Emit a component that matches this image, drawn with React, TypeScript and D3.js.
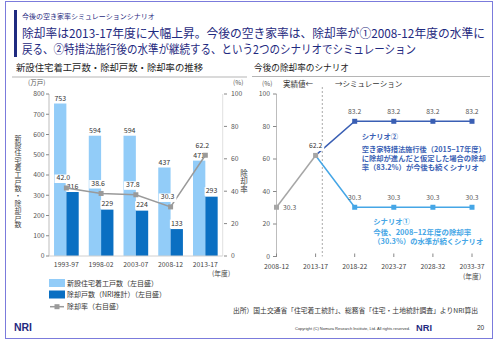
import React from 'react';
import * as d3 from 'd3';

const periods = ['1993-97', '1998-02', '2003-07', '2008-12', '2013-17'];
const housingStarts = [753, 594, 594, 437, 471];
const demolitions = [316, 229, 224, 133, 293];
const demolitionRate = [42.0, 38.6, 37.8, 30.3, 62.2];
const leftTicks = [0, 100, 200, 300, 400, 500, 600, 700, 800];
const rightTicks = [0, 20, 40, 60, 80, 100];

const scenarioPeriods = ['2008-12', '2013-17', '2018-22', '2023-27', '2028-32', '2033-37'];
const actualRates = [30.3, 62.2];
const scenario1Rates = [62.2, 30.3, 30.3, 30.3, 30.3];
const scenario2Rates = [62.2, 83.2, 83.2, 83.2, 83.2];
const scenarioTicks = [0, 20, 40, 60, 80, 100];

const leftAxisTitle = '新設住宅着工戸数・除却戸数';
const rightAxisTitle = '除却率';

const FONT = "'Noto Sans CJK JP', 'Noto Sans', sans-serif";
const NAVY = '#1f2a80';
const LIGHT = '#92ccf8';
const DARK = '#0a6fc2';
const GRAY = '#9a9a9a';
const S1 = '#45a6e6';
const S2 = '#3a5fb4';

function BoxLabel({ x, y, text, size = 7 }: { x: number; y: number; text: string; size?: number }) {
  const w = text.length * size * 0.56 + 2;
  return (
    <g>
      <rect x={x - w / 2} y={y - size * 0.85} width={w} height={size + 1.5} fill="#fff" />
      <text x={x} y={y} textAnchor="middle" fontSize={size} fill="#333" fontFamily={FONT}>{text}</text>
    </g>
  );
}

export default function App() {
  // Left chart scales
  const x0 = d3.scaleBand<string>().domain(periods).range([49, 222.7]).paddingInner(0.29).paddingOuter(0.145);
  const x1 = d3.scaleBand<string>().domain(['starts', 'demol']).range([0, x0.bandwidth()]);
  const yL = d3.scaleLinear().domain([0, 800]).range([256, 94]);
  const yR = d3.scaleLinear().domain([0, 100]).range([256, 94]);
  const cx = (i: number) => (x0(periods[i]) as number) + x0.bandwidth() / 2;
  const rateLine = d3.line<number>().x((_, i) => cx(i)).y((d) => yR(d));

  // Right chart scales
  const xs = d3.scalePoint<string>().domain(scenarioPeriods).range([276.5, 472]);
  const ys = d3.scaleLinear().domain([0, 100]).range([256.5, 94]);
  const actualLine = d3.line<number>().x((_, i) => xs(scenarioPeriods[i]) as number).y((d) => ys(d));
  const scenLine = d3.line<number>().x((_, i) => xs(scenarioPeriods[i + 1]) as number).y((d) => ys(d));

  const mk = 5;
  const vStyle: any = { writingMode: 'vertical-rl', textOrientation: 'upright' };

  return (
    <svg width={500} height={339} style={{ position: 'absolute', left: 0, top: 0, background: '#fff' }} fontFamily={FONT}>
      <rect x={0} y={0} width={500} height={339} fill="#fff" />
      {/* slide frame */}
      <rect x={5.5} y={1.5} width={487} height={337} fill="none" stroke="#7b7bdc" strokeWidth={1} />

      {/* header */}
      <rect x={14} y={10} width={3} height={47} fill={NAVY} />
      <text x={22} y={18.5} fontSize={7} fill={NAVY}>今後の空き家率シミュレーションシナリオ</text>
      <text x={22} y={37.5} fontSize={12} fill={NAVY} textLength={463} lengthAdjust="spacingAndGlyphs">除却率は2013-17年度に大幅上昇。今後の空き家率は、除却率が①2008-12年度の水準に</text>
      <text x={22} y={54.3} fontSize={12} fill={NAVY} textLength={394} lengthAdjust="spacingAndGlyphs">戻る、②特措法施行後の水準が継続する、という2つのシナリオでシミュレーション</text>

      {/* section titles */}
      <text x={16} y={71} fontSize={9.3} fill="#222" textLength={187} lengthAdjust="spacingAndGlyphs">新設住宅着工戸数・除却戸数・除却率の推移</text>
      <line x1={12} x2={247} y1={77} y2={77} stroke="#b5b5b5" strokeWidth={1} />
      <text x={254} y={71} fontSize={9} fill="#222" textLength={95} lengthAdjust="spacingAndGlyphs">今後の除却率のシナリオ</text>
      <line x1={252} x2={490} y1={76.5} y2={76.5} stroke="#b5b5b5" strokeWidth={1} />

      {/* ===== Left chart ===== */}
      <text x={28} y={85} fontSize={6.5} fill="#555">(万戸)</text>
      <text x={233} y={85} fontSize={6.5} fill="#555">(%)</text>
      <line x1={49} x2={49} y1={94} y2={256} stroke="#bdbdbd" />
      {leftTicks.map((t) => (
        <g key={'lt' + t}>
          <line x1={46} x2={49} y1={yL(t)} y2={yL(t)} stroke="#888" />
          <text x={44.5} y={yL(t) + 2.4} fontSize={6.8} fill="#555" textAnchor="end">{t}</text>
        </g>
      ))}
      <line x1={222.7} x2={222.7} y1={94} y2={256} stroke="#e0e0e0" />
      {rightTicks.map((t) => (
        <g key={'rt' + t}>
          <line x1={224} x2={227} y1={yR(t)} y2={yR(t)} stroke="#888" />
          <text x={231} y={yR(t) + 2.4} fontSize={6.8} fill="#555">{t}</text>
        </g>
      ))}
      <text x={18} y={135} fontSize={7} letterSpacing={0.15} fill="#444" style={vStyle}>{leftAxisTitle}</text>
      <text x={244} y={169} fontSize={7.5} letterSpacing={0.5} fill="#444" style={vStyle}>{rightAxisTitle}</text>

      {periods.map((p, i) => (
        <g key={'bar' + p}>
          <rect x={(x0(p) as number) + (x1('starts') as number)} y={yL(housingStarts[i])} width={x1.bandwidth()} height={yL(0) - yL(housingStarts[i])} fill={LIGHT} />
          <rect x={(x0(p) as number) + (x1('demol') as number)} y={yL(demolitions[i])} width={x1.bandwidth()} height={yL(0) - yL(demolitions[i])} fill={DARK} />
        </g>
      ))}
      <line x1={49} x2={222.7} y1={256} y2={256} stroke="#d0d0d0" />
      {periods.map((p, i) => (
        <g key={'bl' + p}>
          <text x={(x0(p) as number) + (x1('starts') as number) + x1.bandwidth() / 2} y={yL(housingStarts[i]) - 3} fontSize={7} fill="#333" textAnchor="middle">{housingStarts[i]}</text>
          <BoxLabel x={(x0(p) as number) + (x1('demol') as number) + x1.bandwidth() / 2} y={yL(demolitions[i]) - 3.5} text={String(demolitions[i])} />
        </g>
      ))}
      <path d={rateLine(demolitionRate) as string} fill="none" stroke={GRAY} strokeWidth={1.5} />
      {demolitionRate.map((r, i) => (
        <rect key={'rm' + i} x={cx(i) - mk / 2} y={yR(r) - mk / 2} width={mk} height={mk} fill={GRAY} />
      ))}
      {demolitionRate.map((r, i) => (
        <BoxLabel key={'rl' + i} x={cx(i) - 3} y={yR(r) - 7.5} text={r.toFixed(1)} />
      ))}
      {periods.map((p, i) => (
        <text key={'xl' + p} x={cx(i)} y={266.5} fontSize={6.8} fill="#444" textAnchor="middle">{p}</text>
      ))}
      <text x={212} y={276} fontSize={6.8} fill="#444">(年度)</text>

      {/* legend */}
      <rect x={49} y={279} width={16} height={8} fill={LIGHT} />
      <text x={67} y={285.5} fontSize={7} fill="#333">新設住宅着工戸数（左目盛）</text>
      <rect x={49} y={290.5} width={16} height={8} fill={DARK} />
      <text x={67} y={297} fontSize={7} fill="#333">除却戸数（NRI推計）（左目盛）</text>
      <line x1={50} x2={64} y1={306.7} y2={306.7} stroke={GRAY} strokeWidth={1.5} />
      <rect x={57 - 2.5} y={306.7 - 2.5} width={5} height={5} fill={GRAY} />
      <text x={67} y={309} fontSize={7} fill="#333">除却率（右目盛）</text>

      {/* ===== Right chart ===== */}
      <text x={262} y={86} fontSize={6.5} fill="#555">(%)</text>
      <text x={283} y={86.5} fontSize={7.5} fill="#333">実績値←</text>
      <text x={335} y={86.5} fontSize={7.5} fill="#333">→シミュレーション</text>
      <line x1={322.3} x2={322.3} y1={87} y2={256.5} stroke="#aaa" strokeDasharray="2,2" />
      <line x1={276.5} x2={276.5} y1={94} y2={256.5} stroke="#bdbdbd" />
      {scenarioTicks.map((t) => (
        <g key={'st' + t}>
          <line x1={273} x2={276.5} y1={ys(t)} y2={ys(t)} stroke="#888" />
          <text x={270} y={ys(t) + 2.4} fontSize={6.8} fill="#555" textAnchor="end">{t}</text>
        </g>
      ))}
      {scenarioPeriods.map((p) => (
        <g key={'sx' + p}>
          <line x1={xs(p) as number} x2={xs(p) as number} y1={253.5} y2={257} stroke="#888" />
          <text x={xs(p) as number} y={269} fontSize={6.8} fill="#444" textAnchor="middle">{p}</text>
        </g>
      ))}
      <text x={463} y={278.5} fontSize={6.8} fill="#444">(年度)</text>

      <path d={actualLine(actualRates) as string} fill="none" stroke="#a6a6a6" strokeWidth={1.5} />
      <path d={scenLine(scenario2Rates) as string} fill="none" stroke={S2} strokeWidth={1.5} />
      <path d={scenLine(scenario1Rates) as string} fill="none" stroke={S1} strokeWidth={1.5} />
      {actualRates.map((r, i) => (
        <rect key={'am' + i} x={(xs(scenarioPeriods[i]) as number) - mk / 2} y={ys(r) - mk / 2} width={mk} height={mk} fill="#a6a6a6" />
      ))}
      {scenario2Rates.slice(1).map((r, i) => (
        <rect key={'s2m' + i} x={(xs(scenarioPeriods[i + 2]) as number) - mk / 2} y={ys(r) - mk / 2} width={mk} height={mk} fill={S2} />
      ))}
      {scenario1Rates.slice(1).map((r, i) => (
        <rect key={'s1m' + i} x={(xs(scenarioPeriods[i + 2]) as number) - mk / 2} y={ys(r) - mk / 2} width={mk} height={mk} fill={S1} />
      ))}
      <text x={283} y={ys(actualRates[0]) + 2.5} fontSize={6.8} fill="#555">{actualRates[0].toFixed(1)}</text>
      <BoxLabel x={xs(scenarioPeriods[1]) as number} y={ys(actualRates[1]) - 7} text={actualRates[1].toFixed(1)} size={6.8} />
      {scenario2Rates.slice(1).map((r, i) => (
        <text key={'s2l' + i} x={xs(scenarioPeriods[i + 2]) as number} y={ys(r) - 7} fontSize={6.8} fill="#555" textAnchor="middle">{r.toFixed(1)}</text>
      ))}
      {scenario1Rates.slice(1).map((r, i) => (
        <text key={'s1l' + i} x={xs(scenarioPeriods[i + 2]) as number} y={ys(r) - 7} fontSize={6.8} fill="#555" textAnchor="middle">{r.toFixed(1)}</text>
      ))}

      {/* annotations */}
      <g fill={S2} fontSize={7.3} fontWeight="bold">
        <text x={361.7} y={138.6}>シナリオ②</text>
        <text x={361.7} y={151.9} textLength={124} lengthAdjust="spacingAndGlyphs">空き家特措法施行後（2015−17年度）</text>
        <text x={361.7} y={160.9} textLength={124} lengthAdjust="spacingAndGlyphs">に除却が進んだと仮定した場合の除却</text>
        <text x={361.7} y={169.9}>率（83.2%）が今後も続くシナリオ</text>
      </g>
      <g fill={S1} fontSize={7.3} fontWeight="bold">
        <text x={373.3} y={224.3}>シナリオ①</text>
        <text x={373.3} y={234.9} textLength={98} lengthAdjust="spacingAndGlyphs">今後、2008−12年度の除却率</text>
        <text x={373.3} y={244.3}>（30.3%）の水準が続くシナリオ</text>
      </g>

      {/* source & footer */}
      <text x={233} y={313.3} fontSize={6.8} fill="#333" textLength={245} lengthAdjust="spacingAndGlyphs">出所）国土交通省「住宅着工統計」、総務省「住宅・土地統計調査」よりNRI算出</text>
      <text x={14} y={331} fontSize={11} fontWeight="bold" fill={NAVY} fontFamily="'Liberation Sans', Arial, sans-serif" textLength={18} lengthAdjust="spacingAndGlyphs">NRI</text>
      <text x={295} y={329.5} fontSize={4.3} fill="#333" fontFamily="'Liberation Sans', Arial, sans-serif" textLength={115} lengthAdjust="spacingAndGlyphs">Copyright (C)  Nomura Research Institute, Ltd. All rights reserved.</text>
      <text x={416} y={330.5} fontSize={9.5} fontWeight="bold" fill={NAVY} fontFamily="'Liberation Sans', Arial, sans-serif" textLength={16} lengthAdjust="spacingAndGlyphs">NRI</text>
      <text x={477} y={330} fontSize={6.5} fill="#333" fontFamily="'Liberation Sans', Arial, sans-serif">20</text>
    </svg>
  );
}
